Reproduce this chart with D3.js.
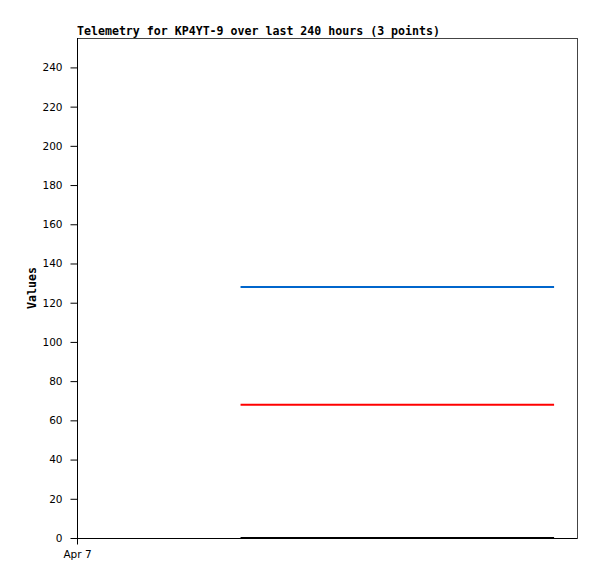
<!DOCTYPE html>
<html>
<head>
<meta charset="utf-8">
<script src="https://cdn.jsdelivr.net/npm/d3@7"></script>
<style>
  body { margin: 0; background: #fff; }
  svg { display: block; }
</style>
</head>
<body>
<div id="chart"></div>
<script>
// telemetry series, 3 points each
var times = ["2024-04-07T05:14", "2024-04-07T10:15", "2024-04-07T15:16"];
var seriesNames = ["ch1", "ch2", "ch3"];
var ch1 = [128, 128, 128];
var ch2 = [68, 68, 68];
var ch3 = [0, 0, 0];
var seriesColors = ["#0066cc", "#ff0000", "#000000"];
var yTicks = [0, 20, 40, 60, 80, 100, 120, 140, 160, 180, 200, 220, 240];
var xTickLabels = ["Apr 7"];

var parseTime = d3.timeParse("%Y-%m-%dT%H:%M");

var margin = {top: 38, right: 20, bottom: 41, left: 77},
    width = 597 - margin.left - margin.right,
    height = 579 - margin.top - margin.bottom;

var x = d3.scaleTime()
    .domain([parseTime("2024-04-07T00:00"), parseTime("2024-04-07T16:00")])
    .range([0, width]);

var y = d3.scaleLinear()
    .domain([0, 255])
    .range([height, 0]);

var svg = d3.select("#chart").append("svg")
    .attr("width", 597)
    .attr("height", 579)
  .append("g")
    .attr("transform", "translate(" + margin.left + "," + margin.top + ")");

// frame
svg.append("rect")
    .attr("x", 0.5).attr("y", 0.5)
    .attr("width", width).attr("height", height)
    .attr("fill", "none")
    .attr("stroke", "#444")
    .attr("stroke-width", 1);

var yAxis = d3.axisLeft(y).tickValues(yTicks).tickSize(7).tickPadding(8);
var gy = svg.append("g")
    .attr("transform", "translate(0.5,0)")
    .call(yAxis);
gy.select(".domain").remove();
gy.append("line").attr("y1", 0).attr("y2", height + 6).attr("stroke", "#000");
gy.selectAll("text")
    .style("font-family", "'DejaVu Sans', sans-serif")
    .style("font-size", "10.5px")
    .attr("fill", "#000");

var xAxis = d3.axisBottom(x)
    .tickValues([parseTime("2024-04-07T00:00")])
    .tickFormat(function(d, i) { return xTickLabels[i]; })
    .tickSize(6).tickPadding(6);
var gx = svg.append("g")
    .attr("transform", "translate(0," + (height + 0.5) + ")")
    .call(xAxis);
gx.select(".domain").attr("d", "M0,0H" + width);
gx.selectAll("text")
    .style("font-family", "'DejaVu Sans', sans-serif")
    .style("font-size", "10.5px")
    .attr("fill", "#000");

var line = d3.line()
    .x(function(d, i) { return x(parseTime(times[i])); })
    .y(function(d) { return y(d); });

[ch1, ch2, ch3].forEach(function(s, i) {
  svg.append("path")
      .datum(s)
      .attr("class", seriesNames[i])
      .attr("fill", "none")
      .attr("stroke", seriesColors[i])
      .attr("stroke-width", 2)
      .attr("d", line);
});

// title
svg.append("text")
    .attr("x", 0).attr("y", -3)
    .style("font-family", "'DejaVu Sans Mono', monospace")
    .style("font-size", "11.6px")
    .style("font-weight", "bold")
    .text("Telemetry for KP4YT-9 over last 240 hours (3 points)");

svg.append("text")
    .attr("transform", "translate(-41," + (height / 2) + ") rotate(-90)")
    .attr("text-anchor", "middle")
    .style("font-family", "'DejaVu Sans Mono', monospace")
    .style("font-size", "11.6px")
    .style("font-weight", "bold")
    .text("Values");
</script>
</body>
</html>
